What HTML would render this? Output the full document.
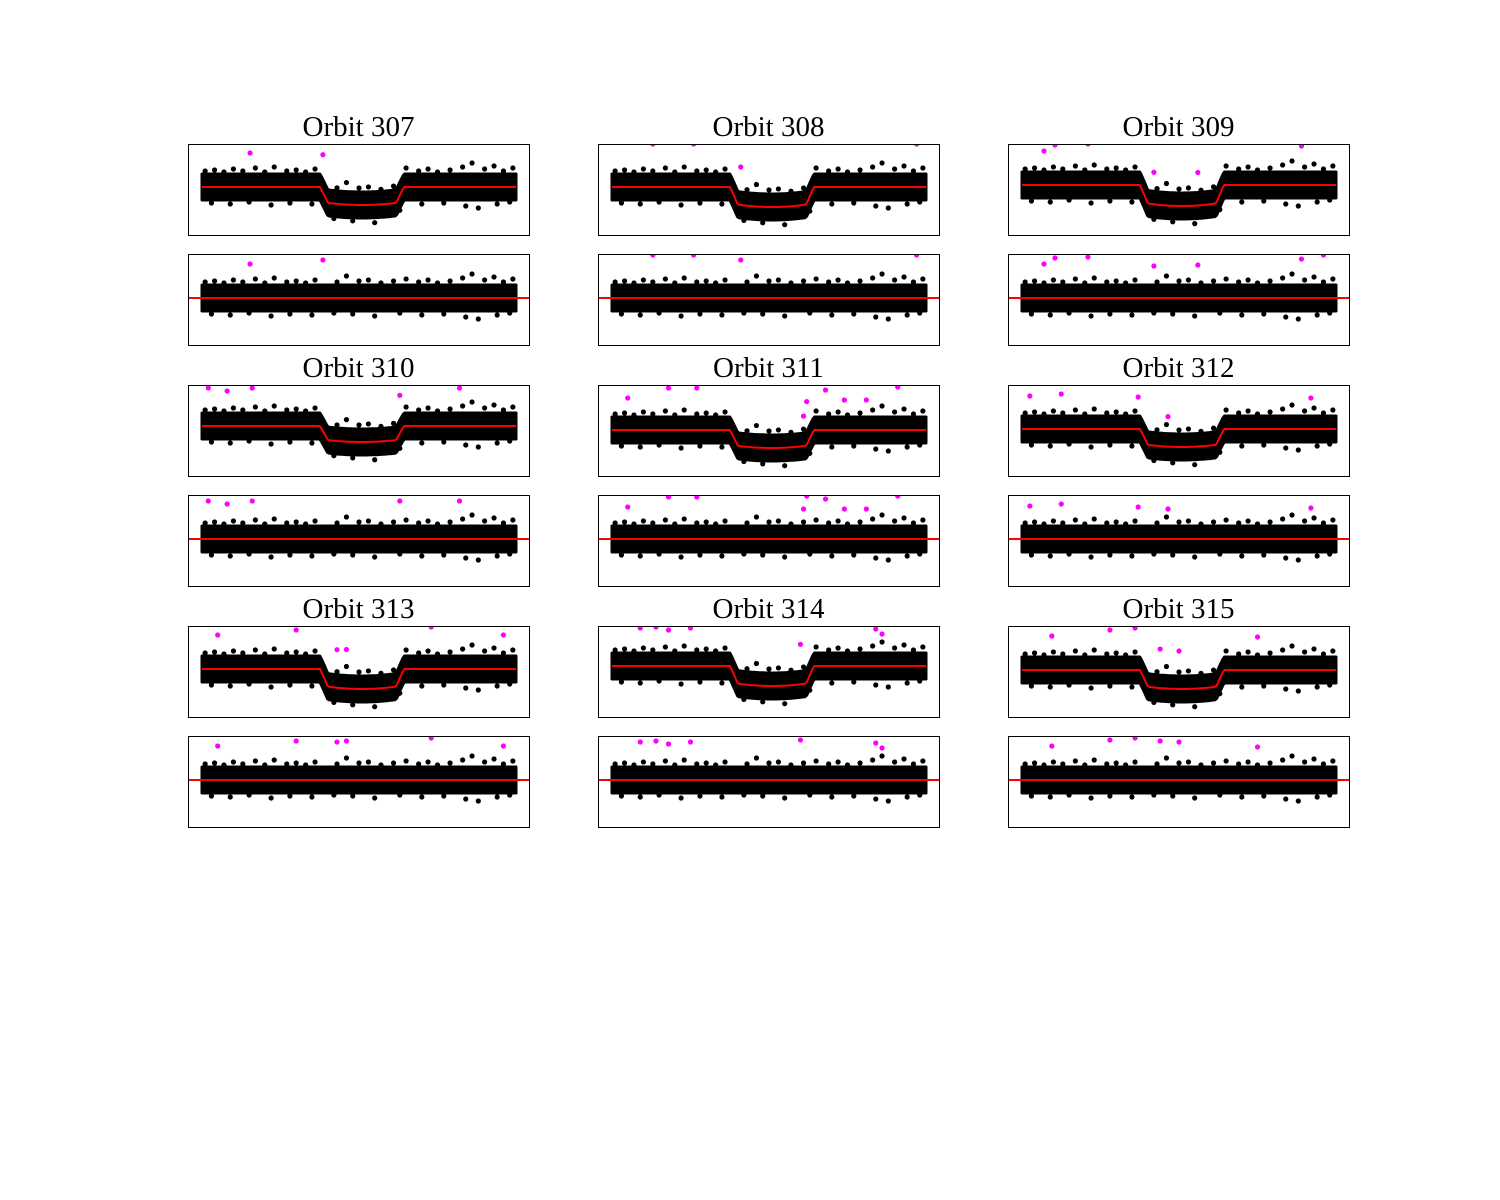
<!DOCTYPE html>
<html><head><meta charset="utf-8"><style>
body{margin:0;background:#fff}
svg{display:block}
text{font-family:"Liberation Serif",serif;font-size:29px}
</style></head><body>
<svg id="chart" width="1500" height="1200"></svg>
<script>
const orbits=[307,308,309,310,311,312,313,314,315];
const depths=[18,20,21,16,18,18,20,20,19];
const baseOffsets=[43,43,41,41,45,44,43,40,44];
const ingress=[0.376,0.401,0.618,0.643];
const magX=[[0.153,0.385],[0.13,0.26,0.41,0.97],[0.07,0.105,0.21,0.42,0.56,0.89,0.96],[0.02,0.08,0.16,0.63,0.82],[0.05,0.18,0.27,0.62,0.68,0.74,0.81,0.91,0.61],[0.025,0.125,0.37,0.465,0.92],[0.05,0.3,0.43,0.46,0.73,0.96],[0.09,0.14,0.18,0.25,0.6,0.84,0.86],[0.095,0.28,0.36,0.44,0.5,0.75]];
const magY=[[-34,-38],[-43,-43,-38,-43],[-34,-40,-41,-32,-33,-39,-43],[-38,-35,-38,-38,-38],[-32,-42,-42,-43,-40,-30,-30,-43,-30],[-33,-35,-32,-30,-31],[-34,-39,-38,-39,-42,-34],[-38,-39,-36,-38,-40,-37,-32],[-34,-40,-42,-39,-38,-33]];
const outX=[0.01,0.04,0.07,0.1,0.13,0.17,0.2,0.23,0.27,0.3,0.33,0.36,0.43,0.46,0.5,0.53,0.57,0.61,0.65,0.69,0.72,0.75,0.79,0.83,0.86,0.9,0.93,0.96,0.99,0.03,0.09,0.15,0.22,0.28,0.35,0.42,0.48,0.55,0.63,0.7,0.77,0.84,0.88,0.94,0.98];
const outY=[-16,-17,-15,-18,-16,-19,-15,-20,-16,-17,-15,-18,-16,-22,-17,-18,-15,-17,-19,-16,-18,-15,-17,-20,-24,-18,-21,-16,-19,16,17,15,18,16,17,15,16,18,15,17,16,19,21,17,15];
const halfBand=13;

const svg=document.getElementById('chart');
const NS='http://www.w3.org/2000/svg';
const colX=[188,598,1008], rowY=[144,385,626], PW=341, PH=91;
function mk(t,a,p){const e=document.createElementNS(NS,t);for(const k in a)e.setAttribute(k,a[k]);(p||svg).appendChild(e);return e;}
function model(t,d){
  const [a,b,c,e]=ingress;
  const dd=0.88*d;
  if(t<a||t>e) return 0;
  if(t<b) return -dd*(t-a)/(b-a);
  if(t>c) return -dd*(e-t)/(e-c);
  const u=(t-(b+c)/2)/((c-b)/2);
  return -(dd+0.12*d*(1-u*u));
}
orbits.forEach((o,i)=>{
  const cx=colX[i%3], ry=rowY[Math.floor(i/3)];
  const xs=t=>cx+14+t*314;
  const g=mk('g',{});
  
  
  const ti=mk('text',{x:cx+PW/2,y:ry-8,'text-anchor':'middle'},g);
  ti.textContent='Orbit '+o;
  
  
  [0,1].forEach(k=>{
    const top=ry+k*110;
    const base=top+(k===0?baseOffsets[i]:44);
    const d=k===0?depths[i]:0;
    const ys=v=>base-v;
    const cid='c'+i+'_'+k;
    const cp=mk('clipPath',{id:cid},g);mk('rect',{x:cx,y:top,width:PW,height:PH},cp);
    const pg=mk('g',{'clip-path':'url(#'+cid+')'},g);
    
    
    let up=[],lo=[];
    for(let s=0;s<=200;s++){const t=s/200;const m=model(t,d);up.push(xs(t).toFixed(1)+','+(ys(m)-halfBand).toFixed(1));lo.unshift(xs(t).toFixed(1)+','+(ys(m)+halfBand).toFixed(1));}
    const band=mk('polygon',{points:up.concat(lo).join(' '),fill:'#000',stroke:'#000','stroke-width':3,'stroke-linejoin':'round'},pg);
    
    
    outX.forEach((t,j)=>{const c=mk('circle',{cx:xs(t),cy:ys(model(t,d))+outY[j],r:2.6,fill:'#000'},pg);
      
      });
    magX[i].forEach((t,j)=>{const c=mk('circle',{cx:xs(t),cy:ys(model(t,d))+magY[i][j],r:2.6,fill:'#ff00ff'},pg);
      
      });
    let pts=[];
    if(k===0){for(let s=0;s<=200;s++){const t=s/200;pts.push(xs(t).toFixed(1)+','+ys(model(t,d)).toFixed(1));}}
    else pts=[cx+','+base,(cx+PW)+','+base];
    const ln=mk('polyline',{points:pts.join(' '),fill:'none',stroke:'#ff0000','stroke-width':2},pg);
    
    
    const fr=mk('rect',{x:cx+0.5,y:top+0.5,width:PW,height:PH,fill:'none',stroke:'#000','stroke-width':1},g);
    
    
  });
});
</script>
</body></html>
